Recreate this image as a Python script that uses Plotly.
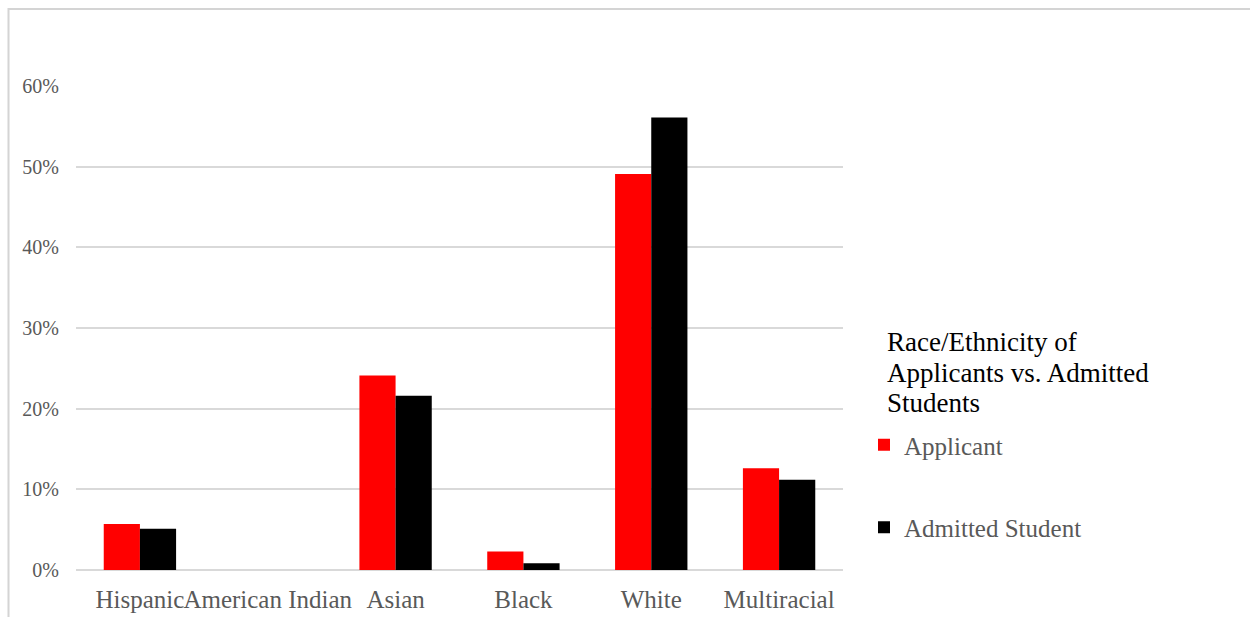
import plotly.graph_objects as go

# Share of applicants and admitted students by race/ethnicity
categories = ["Hispanic", "American Indian", "Asian", "Black", "White", "Multiracial"]
applicant = [0.057, 0.0, 0.241, 0.023, 0.491, 0.126]
admitted = [0.051, 0.0, 0.216, 0.0085, 0.561, 0.112]
y_ticks = [0, 0.1, 0.2, 0.3, 0.4, 0.5, 0.6]
legend_heading = ["Race/Ethnicity of", "Applicants vs. Admitted", "Students"]

W, H = 1250, 617
L, R, T, B = 76, 407, 86, 47
pw, ph = W - L - R, H - T - B

FONT = "Liberation Serif, Times New Roman, serif"
GREY = "#595959"
GRID = "#d9d9d9"

fig = go.Figure()
fig.add_trace(go.Bar(
    x=categories, y=applicant, name="Applicant",
    marker=dict(color="#ff0000", line=dict(width=0)),
    legendgroup="a",
))
fig.add_trace(go.Bar(
    x=categories, y=admitted, name="Admitted Student",
    marker=dict(color="#000000", line=dict(width=0)),
    legendgroup="b",
))


# helpers converting page pixels to paper coordinates
def px_x(x):
    return (x - L) / pw


def px_y(y):
    return (H - B - y) / ph


# light outer frame of the chart area
fig.add_shape(
    type="rect", xref="paper", yref="paper",
    x0=px_x(8.5), x1=px_x(1270), y0=px_y(640), y1=px_y(9),
    line=dict(color="#d4d4d4", width=2), fillcolor="rgba(0,0,0,0)",
    layer="below",
)

# legend heading, one line per annotation for tight line spacing
for i, line in enumerate(legend_heading):
    fig.add_annotation(
        text=line, xref="paper", yref="paper",
        x=px_x(885), y=px_y(342 + i * 30.5),
        xanchor="left", yanchor="middle", showarrow=False,
        font=dict(family=FONT, size=27, color="#000000"),
    )

fig.update_layout(
    width=W, height=H,
    margin=dict(l=L, r=R, t=T, b=B, pad=0, autoexpand=False),
    paper_bgcolor="white", plot_bgcolor="white",
    barmode="group", bargap=0.434, bargroupgap=0,
    font=dict(family=FONT, color=GREY),
    showlegend=True,
    legend=dict(
        x=px_x(864), y=px_y(422), xanchor="left", yanchor="top",
        font=dict(family=FONT, size=25, color=GREY),
        tracegroupgap=47,
        itemsizing="constant",
        bgcolor="rgba(0,0,0,0)",
    ),
    xaxis=dict(
        type="category",
        tickangle=0,
        tickfont=dict(family=FONT, size=25, color=GREY),
        showgrid=False, zeroline=False, showline=False,
        ticks="",
        ticklabelstandoff=12,
        automargin=False,
    ),
    yaxis=dict(
        range=[0, 0.6],
        tickvals=y_ticks,
        tickformat=".0%",
        tickfont=dict(family=FONT, size=20, color=GREY),
        showgrid=True, gridcolor=GRID, gridwidth=1.5,
        zeroline=True, zerolinecolor=GRID, zerolinewidth=1.5,
        showline=False, ticks="",
        ticklabelstandoff=16,
        automargin=False,
    ),
)

fig.write_html("out.html")
